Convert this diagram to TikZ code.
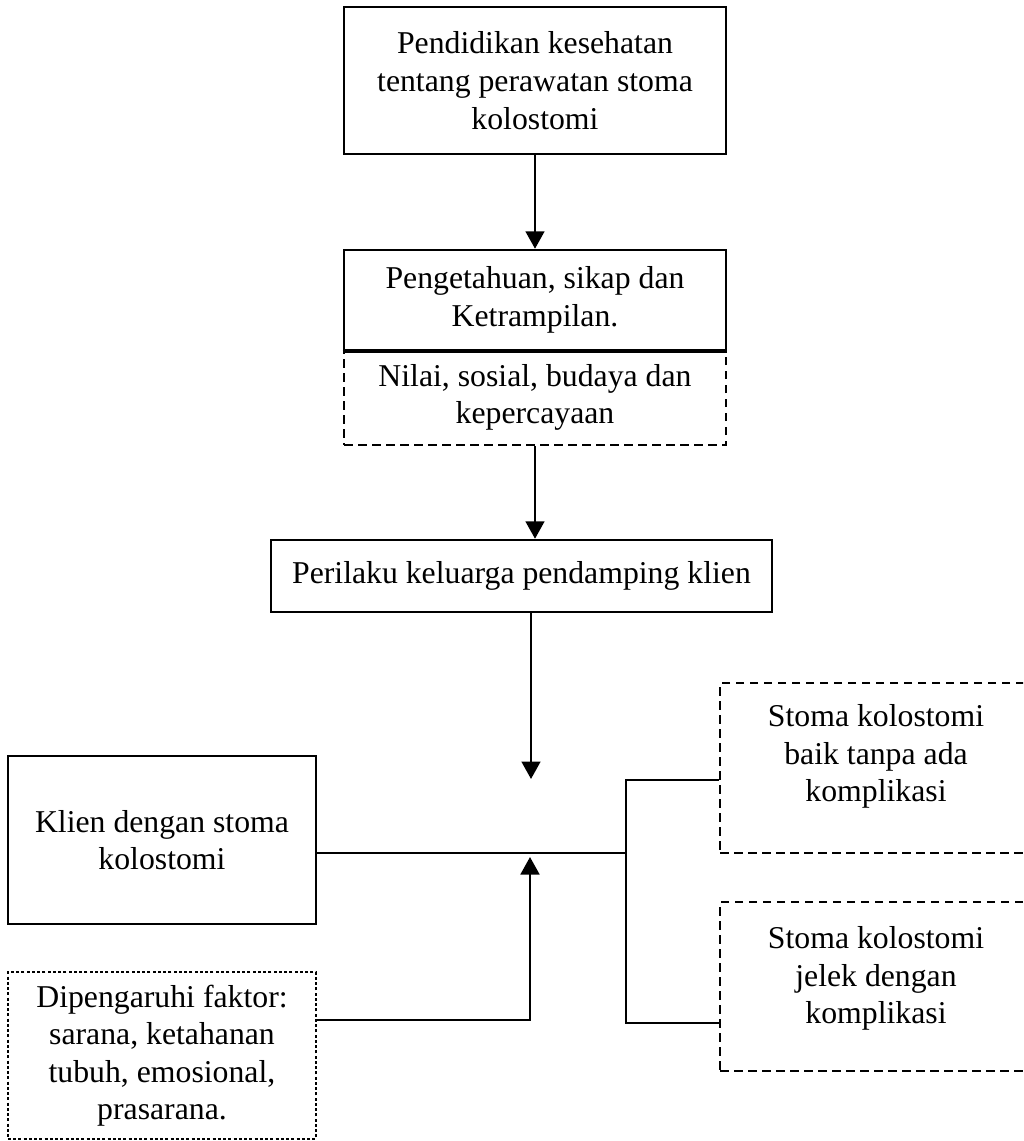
\documentclass[tikz,border=0pt]{standalone}
\usepackage{fontspec}
\setmainfont{Liberation Serif}
\usepackage{tikz}
\usetikzlibrary{calc, arrows.meta, positioning}
\tikzset{
    boxnode/.style = {draw, rectangle, line width=1pt, inner sep=0em, node distance=0em,
      align=center, font=\fontsize{12.7}{15}\selectfont},
    dashnode/.style = {boxnode, dash pattern=on 3.4pt off 2.2pt},
    dotnode/.style = {boxnode, line width=0.8pt, dash pattern=on 1.2pt off 0.9pt},
    connect/.style = {black, line width=1pt, -{Triangle[length=7pt, width=7.5pt]}},
    line/.style = {black, line width=1pt}
}
\begin{document}
\begin{tikzpicture}[x=0.4pt, y=-0.4pt]
    \clip (0,0) rectangle (1023,1141);

    \node [boxnode, name=edu, minimum width=152.8pt, minimum height=58.8pt,
      font=\fontsize{12.7}{15.2}\selectfont] at (535,80.5)
      {Pendidikan kesehatan\\tentang perawatan stoma\\kolostomi};
    \node [boxnode, name=know, below of = edu, yshift=-87.8pt,
      minimum width=152.8pt, minimum height=40pt] {Pengetahuan, sikap dan\\Ketrampilan.};
    \node [dashnode, name=value, below of = know, yshift=-39pt,
      minimum width=152.8pt, minimum height=38pt] {Nilai, sosial, budaya dan\\kepercayaan};
    \draw [line] (know.south west) -- (know.south east);
    \node [boxnode, name=behave, below of = value, xshift=-5.4pt, yshift=-71.4pt,
      minimum width=200.4pt, minimum height=28.8pt] {Perilaku keluarga pendamping klien};

    \node [boxnode, name=client, below of = behave, xshift=-143.8pt, yshift=-105.6pt,
      minimum width=123.2pt, minimum height=67.2pt] {Klien dengan stoma\\kolostomi};
    \node [dotnode, name=factor, below of = client, yshift=-86.2pt,
      minimum width=123.2pt, minimum height=66.8pt]
      {Dipengaruhi faktor:\\sarana, ketahanan\\tubuh, emosional,\\prasarana.};

    \node [dashnode, name=good, right of = behave, xshift=141.8pt, yshift=-76.8pt,
      minimum width=124.8pt, minimum height=68pt] {Stoma kolostomi\\baik tanpa ada\\komplikasi\\[-3pt]};
    \node [dashnode, name=bad, below of = good, yshift=-87.4pt,
      minimum width=124.8pt, minimum height=67.6pt] {Stoma kolostomi\\jelek dengan\\komplikasi\\[-5.8pt]};

    \coordinate (downtip) at (531,779);
    \coordinate (uptip) at (530,857);
    \coordinate (joint) at (626,853);

    \draw [connect] (edu) -- (know);
    \draw [connect] (value.south) -- (value.south |- behave.north);
    \draw [connect] (behave.south -| downtip) -- (downtip);
    \draw [line] (client.east |- joint) -- (joint);
    \draw [line] (good.west |- 0,780) -| (joint |- 0,1023) -- (bad.west |- 0,1023);
    \draw [connect] (factor.east |- 0,1020) -| (uptip);
\end{tikzpicture}
\end{document}
